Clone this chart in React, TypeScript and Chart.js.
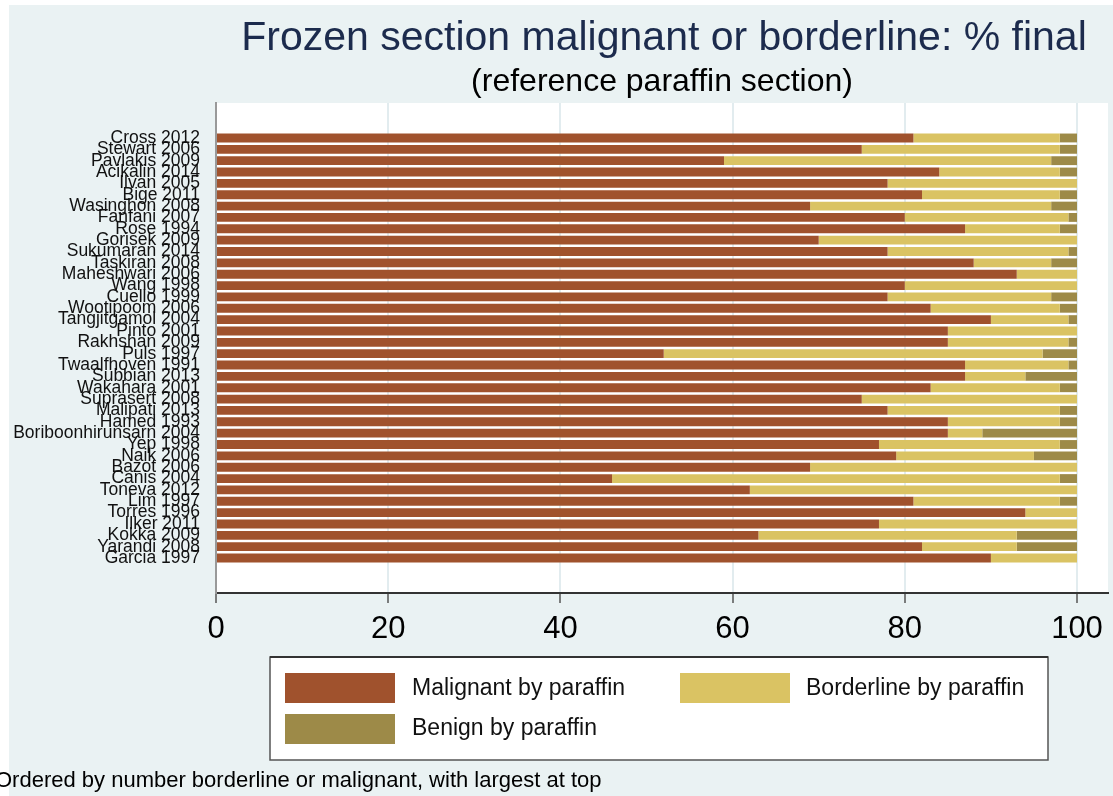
import React, { useEffect, useRef } from "react";
import { Chart, registerables } from "chart.js";

Chart.register(...registerables);

const studies = [
  "Cross 2012", "Stewart 2006", "Pavlakis 2009", "Acikalin 2014", "Ilvan 2005",
  "Bige 2011", "Wasinghon 2008", "Fanfani 2007", "Rose 1994", "Gorisek 2009",
  "Sukumaran 2014", "Taskiran 2008", "Maheshwari 2006", "Wang 1998", "Cuello 1999",
  "Wootipoom 2006", "Tangjitgamol 2004", "Pinto 2001", "Rakhshan 2009", "Puls 1997",
  "Twaalfhoven 1991", "Subbian 2013", "Wakahara 2001", "Suprasert 2008", "Malipati 2013",
  "Hamed 1993", "Boriboonhirunsarn 2004", "Yep 1998", "Naik 2006", "Bazot 2006",
  "Canis 2004", "Toneva 2012", "Lim 1997", "Torres 1996", "Ilker 2011",
  "Kokka 2009", "Yarandi 2008", "Garcia 1997",
];

const malignant = [
  81, 75, 59, 84, 78, 82, 69, 80, 87, 70,
  78, 88, 93, 80, 78, 83, 90, 85, 85, 52,
  87, 87, 83, 75, 78, 85, 85, 77, 79, 69,
  46, 62, 81, 94, 77, 63, 82, 90,
];

const borderline = [
  17, 23, 38, 14, 22, 16, 28, 19, 11, 30,
  21, 9, 7, 20, 19, 15, 9, 15, 14, 44,
  12, 7, 15, 25, 20, 13, 4, 21, 16, 31,
  52, 38, 17, 6, 23, 30, 11, 10,
];

const benign = [
  2, 2, 3, 2, 0, 2, 3, 1, 2, 0,
  1, 3, 0, 0, 3, 2, 1, 0, 1, 4,
  1, 6, 2, 0, 2, 2, 11, 2, 5, 0,
  2, 0, 2, 0, 0, 7, 7, 0,
];

const seriesLabels = ["Malignant by paraffin", "Borderline by paraffin", "Benign by paraffin"];
const seriesColors = ["#a0522d", "#dac363", "#9d8a48"];
const xTicks = [0, 20, 40, 60, 80, 100];

const titleText = "Frozen section malignant or borderline: % final";
const subtitleText = "(reference paraffin section)";
const noteText = "Ordered by number borderline or malignant, with largest at top";

const FONT = "'Liberation Sans', Arial, sans-serif";

export default function App() {
  const canvasRef = useRef<HTMLCanvasElement | null>(null);

  useEffect(() => {
    document.body.style.margin = "0";
    document.body.style.overflow = "hidden";
    const canvas = canvasRef.current;
    if (!canvas) return;

    const toPoints = (arr: number[]) => arr.map((v, i) => ({ x: v, y: i }));

    const decor = {
      id: "decor",
      beforeDraw(chart: any) {
        const { ctx, chartArea, width, height } = chart;
        ctx.save();
        ctx.fillStyle = "#ffffff";
        ctx.fillRect(0, 0, width, height);
        ctx.fillStyle = "#eaf2f3";
        ctx.fillRect(9, 5, width - 9, height - 5);
        ctx.fillStyle = "#ffffff";
        ctx.fillRect(chartArea.left, chartArea.top, chartArea.right - chartArea.left, chartArea.bottom - chartArea.top);
        ctx.restore();
      },
      afterDraw(chart: any) {
        const { ctx, chartArea } = chart;
        const cx = (chartArea.left + chartArea.right) / 2;
        ctx.save();
        ctx.textAlign = "center";
        ctx.textBaseline = "alphabetic";
        ctx.fillStyle = "#1c2b4d";
        ctx.font = `41px ${FONT}`;
        ctx.fillText(titleText, cx + 2, 50);
        ctx.fillStyle = "#000000";
        ctx.font = `32px ${FONT}`;
        ctx.fillText(subtitleText, cx, 91);

        // legend box
        const bx = 270, by = 657, bw = 778, bh = 103;
        ctx.fillStyle = "#ffffff";
        ctx.fillRect(bx, by, bw, bh);
        ctx.strokeStyle = "#555555";
        ctx.lineWidth = 1.5;
        ctx.strokeRect(bx, by, bw, bh);
        ctx.strokeStyle = "#333333";
        ctx.lineWidth = 2;
        ctx.beginPath();
        ctx.moveTo(bx, by);
        ctx.lineTo(bx + bw, by);
        ctx.stroke();

        const items = [
          { sx: 285, sy: 673, tx: 412, ty: 689 },
          { sx: 680, sy: 673, tx: 806, ty: 689 },
          { sx: 285, sy: 714, tx: 412, ty: 729 },
        ];
        ctx.textAlign = "left";
        ctx.textBaseline = "middle";
        ctx.font = `23px ${FONT}`;
        items.forEach((it, i) => {
          ctx.fillStyle = seriesColors[i];
          ctx.fillRect(it.sx, it.sy, 110, 30);
          ctx.fillStyle = "#111111";
          ctx.fillText(seriesLabels[i], it.tx, it.ty);
        });

        ctx.font = `22px ${FONT}`;
        ctx.fillStyle = "#000000";
        ctx.fillText(noteText, -5, 781);
        ctx.restore();
      },
    };

    const chart = new Chart(canvas, {
      type: "bar",
      data: {
        datasets: [
          { label: seriesLabels[0], data: toPoints(malignant) as any, backgroundColor: seriesColors[0] },
          { label: seriesLabels[1], data: toPoints(borderline) as any, backgroundColor: seriesColors[1] },
          { label: seriesLabels[2], data: toPoints(benign) as any, backgroundColor: seriesColors[2] },
        ],
      },
      options: {
        indexAxis: "y",
        responsive: false,
        animation: false,
        devicePixelRatio: 1,
        layout: { padding: { top: 103, right: 5, left: 0, bottom: 0 } },
        datasets: { bar: { categoryPercentage: 1, barPercentage: 0.78 } } as any,
        plugins: {
          legend: { display: false },
          title: { display: false },
          tooltip: { enabled: false },
        },
        scales: {
          x: {
            type: "linear",
            stacked: true,
            min: 0,
            max: 103.6,
            afterBuildTicks: (scale: any) => {
              scale.ticks = xTicks.map((v) => ({ value: v }));
            },
            afterFit: (scale: any) => {
              scale.height = 203;
            },
            grid: {
              color: "#e2ecef",
              lineWidth: 2,
              drawTicks: true,
              tickLength: 10,
              tickColor: "#555555",
              tickWidth: 1.5,
            },
            border: { display: true, color: "#333333", width: 2 },
            ticks: {
              padding: 8,
              color: "#000000",
              font: { family: FONT, size: 31 },
              maxRotation: 0,
              autoSkip: false,
            },
          },
          y: {
            type: "linear",
            stacked: true,
            reverse: true,
            offset: false,
            min: -3.08,
            max: 40.08,
            afterBuildTicks: (scale: any) => {
              scale.ticks = studies.map((_, i) => ({ value: i }));
            },
            afterFit: (scale: any) => {
              scale.width = 216;
            },
            grid: { display: false, drawTicks: false, offset: false },
            border: { display: true, color: "#999999", width: 2 },
            ticks: {
              autoSkip: false,
              padding: 16,
              color: "#111111",
              font: { family: FONT, size: 17.5 },
              callback: (v: any) => studies[Math.round(Number(v))] ?? "",
            },
          },
        },
      },
      plugins: [decor],
    });

    return () => chart.destroy();
  }, []);

  return (
    <div style={{ width: 1113, height: 796 }}>
      <canvas ref={canvasRef} width={1113} height={796} style={{ display: "block" }} />
    </div>
  );
}
